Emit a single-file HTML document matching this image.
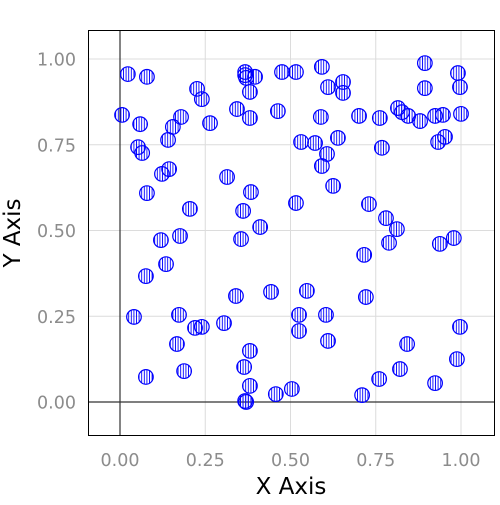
<!DOCTYPE html>
<html><head><meta charset="utf-8"><style>
body{margin:0;background:#fff;}
svg text{font-family:"DejaVu Sans","Liberation Sans",sans-serif;}
</style></head><body>
<svg id="chart" width="500" height="500" xmlns="http://www.w3.org/2000/svg">
<defs>
<pattern id="hatch" patternUnits="userSpaceOnUse" width="2.6" height="10">
<line x1="1.3" y1="0" x2="1.3" y2="10" stroke="#0000ff" stroke-width="0.9"/>
</pattern>
</defs>
<g id="grid"></g>
<g id="axes"></g>
<g id="points"></g>
<rect x="88.5" y="30.5" width="406" height="405" fill="none" stroke="#000" stroke-width="1"/>
<text x="291" y="494" font-size="23" text-anchor="middle" fill="#000">X Axis</text>
<text x="0" y="0" font-size="23" text-anchor="middle" fill="#000" transform="translate(20,233) rotate(-90)">Y Axis</text>
</svg>
<script>
const xTicks=[0,0.25,0.5,0.75,1];
const yTicks=[0,0.25,0.5,0.75,1];
const tickLabels=["0.00","0.25","0.50","0.75","1.00"];
const xs=[0.023,0.079,0.226,0.240,0.006,0.059,0.179,0.155,0.141,0.264,0.343,0.381,0.463,0.367,0.367,0.396,0.370,0.381,0.475,0.053,0.065,0.123,0.144,0.314,0.384,0.079,0.205,0.361,0.411,0.516,0.592,0.610,0.654,0.654,0.894,0.894,0.991,0.997,0.589,0.701,0.762,0.815,0.827,0.845,0.880,0.924,0.947,1.000,0.531,0.572,0.639,0.607,0.592,0.768,0.933,0.953,0.625,0.516,0.730,0.780,0.812,0.979,0.938,0.789,0.716,0.548,0.721,0.525,0.604,0.525,0.610,0.997,0.842,0.988,0.821,0.760,0.924,0.710,0.504,0.120,0.176,0.355,0.135,0.076,0.340,0.443,0.041,0.173,0.220,0.240,0.305,0.167,0.381,0.364,0.188,0.076,0.381,0.457,0.367,0.370];
const ys=[0.956,0.948,0.913,0.883,0.837,0.810,0.831,0.802,0.764,0.813,0.854,0.828,0.848,0.962,0.953,0.948,0.945,0.904,0.962,0.743,0.726,0.665,0.679,0.656,0.612,0.609,0.563,0.557,0.510,0.962,0.977,0.918,0.933,0.901,0.988,0.915,0.959,0.918,0.831,0.834,0.828,0.857,0.845,0.834,0.819,0.834,0.837,0.840,0.758,0.755,0.770,0.723,0.688,0.741,0.758,0.773,0.630,0.580,0.577,0.536,0.504,0.478,0.461,0.464,0.429,0.324,0.306,0.254,0.254,0.207,0.178,0.219,0.169,0.125,0.096,0.067,0.055,0.020,0.038,0.472,0.484,0.475,0.402,0.367,0.309,0.321,0.248,0.254,0.216,0.219,0.230,0.169,0.149,0.102,0.090,0.073,0.047,0.023,0.003,0.000];
const NS="http://www.w3.org/2000/svg";
const sx=v=>120+v*341, sy=v=>402-v*343;
function mk(tag,attrs,parent){const e=document.createElementNS(NS,tag);for(const k in attrs)e.setAttribute(k,attrs[k]);parent.appendChild(e);return e;}
const grid=document.getElementById('grid'),axes=document.getElementById('axes'),pts=document.getElementById('points');
xTicks.forEach((t,i)=>{
  const l=mk('line',{x1:sx(t),x2:sx(t),y1:31,y2:435,stroke:'#dcdcdc','stroke-width':1},grid);
  
  
  const tx=mk('text',{x:sx(t),y:466,'font-size':17.5,'text-anchor':'middle',fill:'#8c8c8c'},axes);
  tx.textContent=tickLabels[i];
  
  
});
yTicks.forEach((t,i)=>{
  const l=mk('line',{x1:89,x2:494,y1:sy(t),y2:sy(t),stroke:'#dcdcdc','stroke-width':1},grid);
  
  
  const tx=mk('text',{x:76,y:sy(t)+6.5,'font-size':17.5,'text-anchor':'end',fill:'#8c8c8c'},axes);
  tx.textContent=tickLabels[i];
  
  
});
const zx=mk('line',{x1:sx(0),x2:sx(0),y1:31,y2:435,stroke:'#333','stroke-width':1.2},axes);


const zy=mk('line',{x1:89,x2:494,y1:sy(0),y2:sy(0),stroke:'#333','stroke-width':1.2},axes);


xs.forEach((x,i)=>{
  const c=mk('circle',{cx:sx(x),cy:sy(ys[i]),r:7.3,fill:'url(#hatch)',stroke:'#0000ff','stroke-width':1.2},pts);
  
  
});
</script>
</body></html>
